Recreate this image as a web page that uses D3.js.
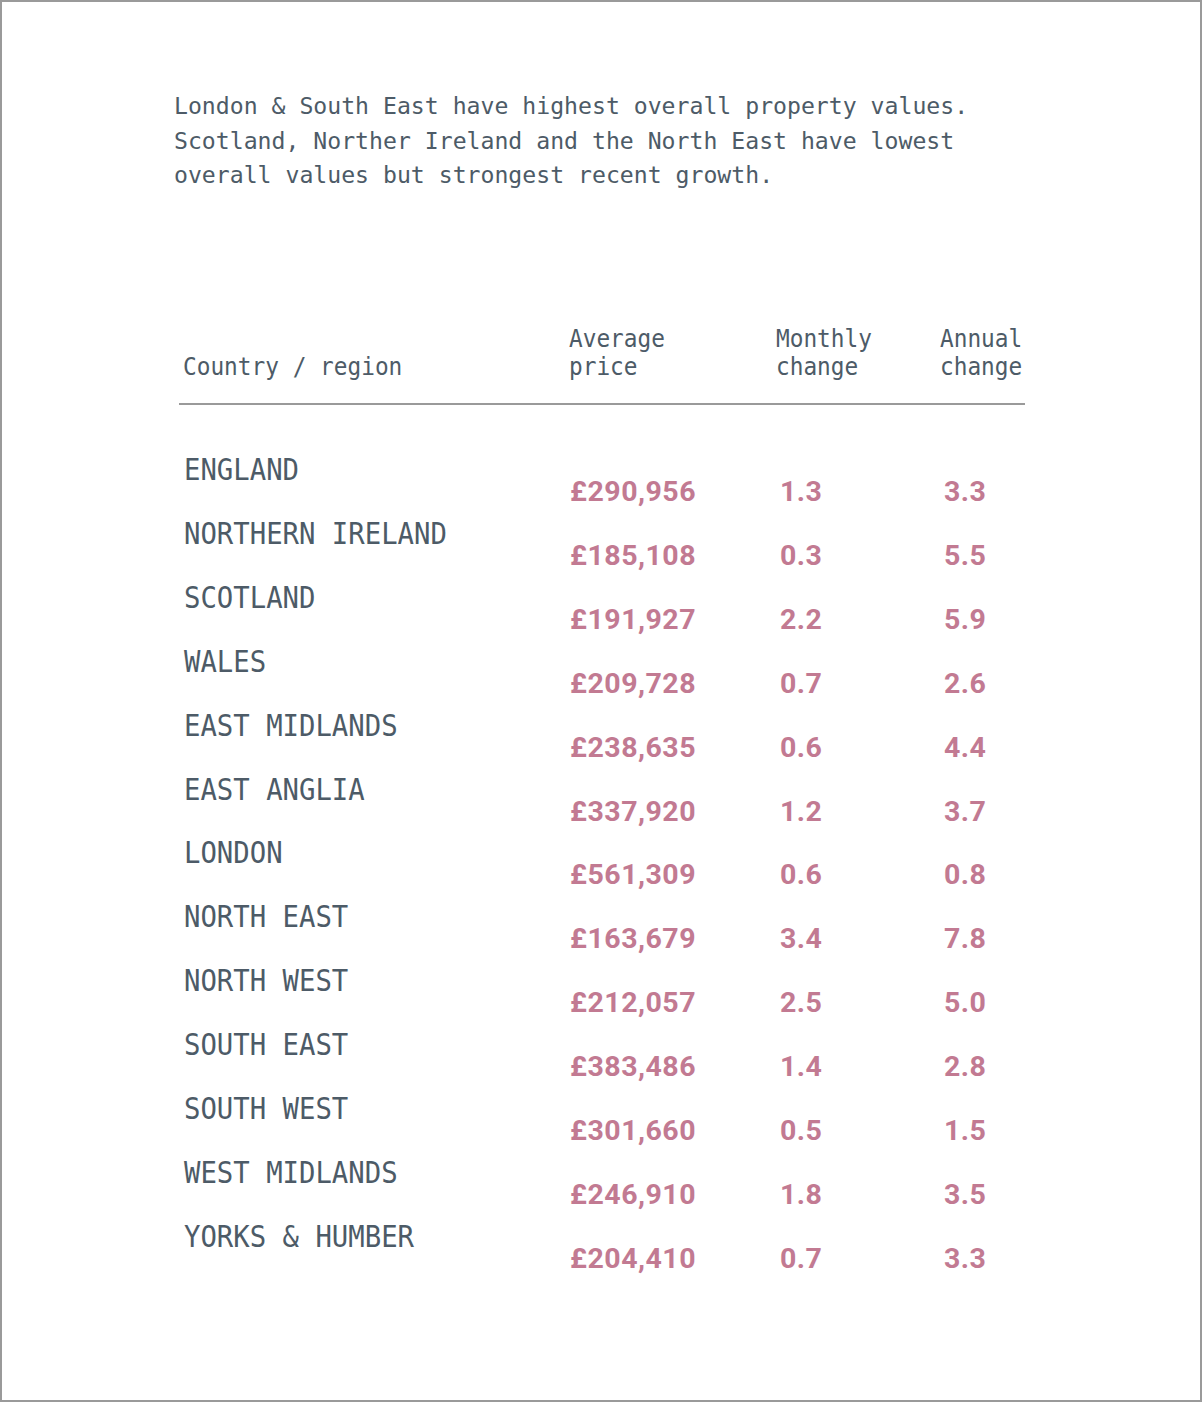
<!DOCTYPE html>
<html>
<head>
<meta charset="utf-8">
<script src="https://cdn.jsdelivr.net/npm/d3@7"></script>
<style>
  html, body { margin: 0; padding: 0; background: #fff; }
  svg { display: block; }
</style>
</head>
<body>
<script>
// data
var subtitle = [
  "London & South East have highest overall property values.",
  "Scotland, Norther Ireland and the North East have lowest",
  "overall values but strongest recent growth."
]
var headers = [["", "Country / region"], ["Average", "price"], ["Monthly", "change"], ["Annual", "change"]]
var regions = ["ENGLAND", "NORTHERN IRELAND", "SCOTLAND", "WALES", "EAST MIDLANDS", "EAST ANGLIA",
  "LONDON", "NORTH EAST", "NORTH WEST", "SOUTH EAST", "SOUTH WEST", "WEST MIDLANDS", "YORKS & HUMBER"]
var prices  = [290956, 185108, 191927, 209728, 238635, 337920, 561309, 163679, 212057, 383486, 301660, 246910, 204410]
var monthly = [1.3, 0.3, 2.2, 0.7, 0.6, 1.2, 0.6, 3.4, 2.5, 1.4, 0.5, 1.8, 0.7]
var annual  = [3.3, 5.5, 5.9, 2.6, 4.4, 3.7, 0.8, 7.8, 5.0, 2.8, 1.5, 3.5, 3.3]

var W = 1203, H = 1403
  , grey = "#4d5b67"
  , pink = "#c27a92"
  , mono = "'DejaVu Sans Mono', 'Liberation Mono', monospace"

var svg = d3.select("body").append("svg").attr("width", W).attr("height", H)

// frame
svg.append("rect").attr("x", 1).attr("y", 1).attr("width", W - 3).attr("height", H - 3)
  .attr("fill", "#fff").attr("stroke", "#9a9a9a").attr("stroke-width", 2)

// subtitle
svg.append("g").selectAll("text").data(subtitle).join("text")
  .attr("x", 174)
  .attr("y", function (d, i) { return 114 + i * 34.5 })
  .attr("font-family", mono).attr("font-size", 23.15).attr("fill", grey)
  .style("white-space", "pre")
  .text(function (d) { return d })

// columns
var cols = d3.scaleOrdinal().domain([0, 1, 2, 3]).range([183, 569, 776, 940])

var head = svg.append("g")
headers.forEach(function (lines, c) {
  lines.forEach(function (t, j) {
    if (!t) return
    head.append("text")
      .attr("transform", "translate(" + cols(c) + "," + (347 + j * 28) + ") scale(0.93,1)")
      .attr("font-family", mono).attr("font-size", 24.5).attr("fill", grey)
      .text(t)
  })
})

svg.append("line").attr("x1", 179).attr("x2", 1025).attr("y1", 404).attr("y2", 404)
  .attr("stroke", "#9a9a9a").attr("stroke-width", 2)

// rows
var y = d3.scalePoint().domain(regions).range([480, 480 + 12 * 63.9])
var fmt = d3.format(",")

var rows = svg.append("g").selectAll("g").data(regions).join("g")
  .attr("transform", function (d) { return "translate(0," + y(d) + ")" })

rows.append("text")
  .attr("transform", "translate(184,0) scale(0.91,1)")
  .attr("font-family", mono).attr("font-size", 30).attr("fill", grey)
  .style("white-space", "pre")
  .text(function (d) { return d })

var vals = [
  function (i) { return "£" + fmt(prices[i]) },
  function (i) { return monthly[i].toFixed(1) },
  function (i) { return annual[i].toFixed(1) }
]
var vx = [570, 780, 944]
vals.forEach(function (f, k) {
  rows.append("text")
    .attr("x", vx[k]).attr("y", 21)
    .attr("font-family", "Roboto, sans-serif").attr("font-weight", 700)
    .attr("font-size", 28.5).attr("letter-spacing", 0.5).attr("fill", pink)
    .text(function (d, i) { return f(i) })
})
</script>
</body>
</html>
